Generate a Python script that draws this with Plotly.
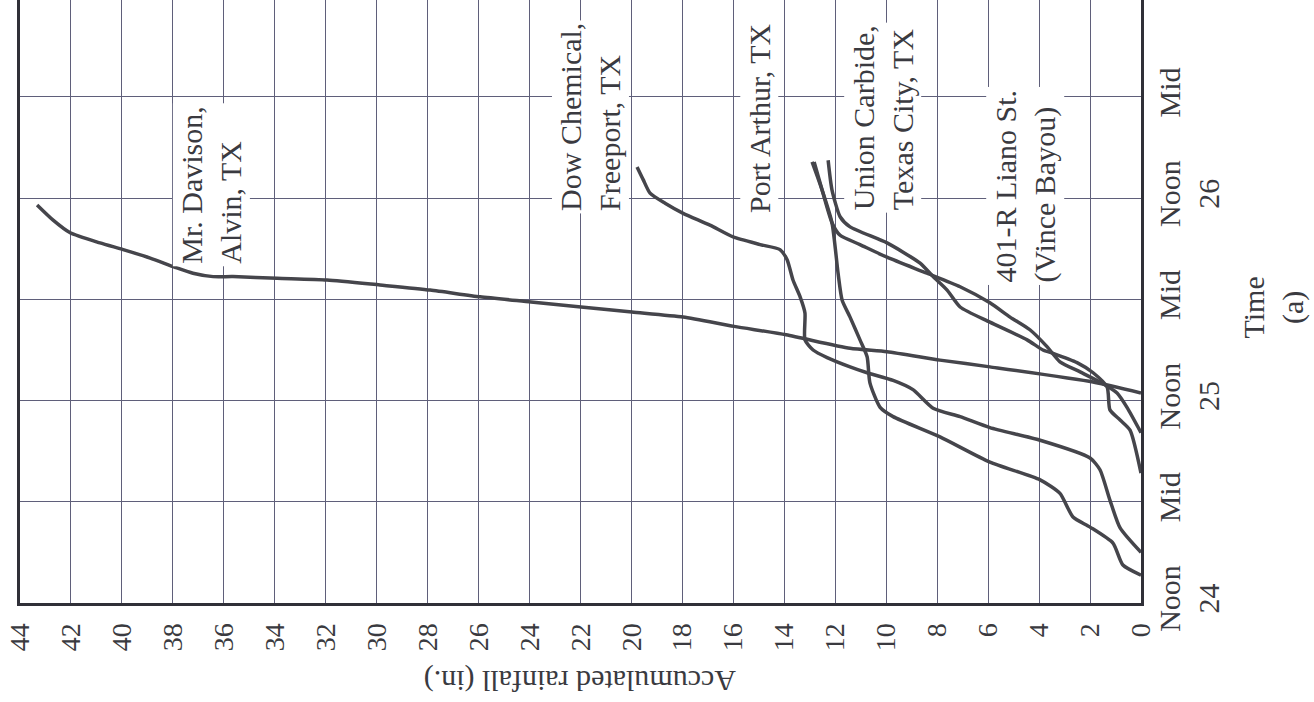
import plotly.graph_objects as go

# ---- axis ticks ----
rain_ticks = list(range(0, 45, 2))
time_ticks = [0, 12, 24, 36, 48, 60]          # hours after noon of the 24th
time_labels = ["Noon<br>24", "Mid", "Noon<br>25", "Mid", "Noon<br>26", "Mid"]

# ---- series (accumulated rainfall in inches vs hours after noon 24) ----
davison_rain = [43.33, 42.70, 42.03, 40.86, 39.95, 38.89, 37.91, 37.21, 36.42, 35.64, 33.91,
                31.95, 29.87, 27.90, 25.94, 23.94, 21.98, 19.98, 17.97, 15.97, 13.93, 11.42,
                9.97, 7.89, 5.93, 1.88, 0.0]
davison_time = [47.2, 45.4, 43.9, 42.7, 41.9, 40.9, 39.8, 39.1, 38.7, 38.7, 38.5,
                38.3, 37.7, 37.1, 36.3, 35.7, 35.1, 34.5, 33.9, 32.8, 31.8, 30.2,
                29.8, 28.8, 28.0, 26.2, 24.9]

dow_rain = [19.78, 19.54, 19.27, 18.68, 17.97, 16.92, 16.01, 14.95, 14.17, 13.89, 13.66,
            13.38, 13.19, 13.19, 12.87, 12.32, 11.42, 10.75, 9.73, 8.95, 8.16, 7.10,
            5.93, 3.96, 2.00, 1.61, 1.22, 0.82, 0.0]
dow_time = [51.7, 50.2, 48.6, 47.4, 46.2, 44.8, 43.4, 42.5, 41.9, 40.7, 38.3,
            36.3, 34.4, 31.2, 30.0, 29.1, 28.0, 27.3, 26.4, 25.3, 23.1, 22.1,
            20.8, 19.3, 17.2, 15.8, 12.2, 8.9, 6.0]

port_rain = [12.91, 12.52, 12.13, 11.89, 11.73, 11.42, 11.03, 10.75, 10.64, 10.24, 9.73,
             7.89, 5.93, 3.96, 3.18, 2.67, 2.00, 1.10, 0.71, 0.0]
port_time = [52.3, 49.0, 45.1, 39.1, 35.9, 33.9, 31.2, 29.2, 26.1, 23.2, 22.1,
             19.7, 16.7, 14.6, 13.0, 10.2, 9.0, 7.1, 4.5, 3.3]

union_rain = [12.83, 12.52, 12.13, 11.81, 11.03, 9.97, 8.40, 7.10, 5.93, 5.14, 4.36,
              3.69, 3.18, 2.39, 1.61, 0.94, 0.55, 0.0]
union_time = [52.3, 49.0, 45.1, 43.6, 42.5, 41.0, 39.1, 37.5, 35.6, 33.9, 32.4,
              30.4, 28.6, 27.4, 26.2, 24.9, 23.2, 20.2]

liano_rain = [12.28, 12.13, 11.81, 11.42, 9.97, 8.67, 8.16, 7.61, 7.10, 5.93, 4.47,
              3.85, 3.45, 2.51, 1.88, 1.33, 1.22, 0.82, 0.43, 0.0]
liano_time = [52.5, 49.0, 45.8, 44.6, 42.7, 40.3, 38.7, 37.1, 35.1, 33.3, 31.2,
              30.0, 29.6, 28.5, 27.3, 25.6, 22.9, 21.7, 20.5, 15.4]

series = [
    ("Mr. Davison, Alvin, TX", davison_rain, davison_time),
    ("Dow Chemical, Freeport, TX", dow_rain, dow_time),
    ("Port Arthur, TX", port_rain, port_time),
    ("Union Carbide, Texas City, TX", union_rain, union_time),
    ("401-R Liano St. (Vince Bayou)", liano_rain, liano_time),
]

# label texts and their anchor positions (rain, hours)
label_texts = ["Mr. Davison,<br>Alvin, TX", "Dow Chemical,<br>Freeport, TX", "Port Arthur, TX",
               "Union Carbide,<br>Texas City, TX", "401-R Liano St.<br>(Vince Bayou)"]
label_rain = [36.5, 21.6, 15.0, 10.13, 4.55]
label_time = [49.6, 57.6, 57.5, 57.6, 49.4]

FONT = "Liberation Serif, Times New Roman, serif"
INK = "#3a3a40"
GRID = "#5f5f7a"

fig = go.Figure()
for name, r, t in series:
    fig.add_trace(go.Scatter(x=r, y=t, mode="lines", name=name,
                             line=dict(color="#45454b", width=3.5, shape="spline", smoothing=0.6),
                             showlegend=False, hoverinfo="skip"))

for txt, r, t in zip(label_texts, label_rain, label_time):
    fig.add_annotation(x=r, y=t, xref="x", yref="y", text=txt, showarrow=False,
                       textangle=-90, align="left", bgcolor="white", borderpad=2,
                       font=dict(family=FONT, size=30, color=INK))

fig.add_annotation(x=0.5, y=0, yshift=-78, xref="paper", yref="paper",
                   xanchor="center", yanchor="middle",
                   text="Accumulated rainfall (in.)", showarrow=False, textangle=180,
                   font=dict(family=FONT, size=30, color=INK))
fig.add_annotation(x=1.0, xshift=133, y=0.49, xref="paper", yref="paper",
                   xanchor="center", yanchor="middle",
                   text="Time<br>(a)", showarrow=False, textangle=-90,
                   font=dict(family=FONT, size=30, color=INK))

fig.update_layout(
    width=1314, height=702,
    margin=dict(l=20, r=173, t=0, b=99),
    paper_bgcolor="white", plot_bgcolor="white",
    font=dict(family=FONT, size=30, color=INK),
    xaxis=dict(range=[44, 0], tickvals=rain_ticks, ticktext=[str(v) for v in rain_ticks],
               tickangle=-90, showgrid=True, gridcolor=GRID, gridwidth=1,
               showline=True, linecolor="#303038", linewidth=3, ticks="",
               zeroline=False, tickfont=dict(family=FONT, size=28, color=INK),
               ticklabelstandoff=6),
    yaxis=dict(range=[0, 71.5], side="right", tickvals=time_ticks, ticktext=time_labels,
               tickangle=-90, showgrid=True, gridcolor=GRID, gridwidth=1,
               showline=True, mirror=True, linecolor="#303038", linewidth=3, ticks="",
               zeroline=False, tickfont=dict(family=FONT, size=30, color=INK)),
)

fig.write_html("out.html", config={"displayModeBar": False},
               post_script="document.body.style.margin='0';document.body.style.overflow='hidden';")
